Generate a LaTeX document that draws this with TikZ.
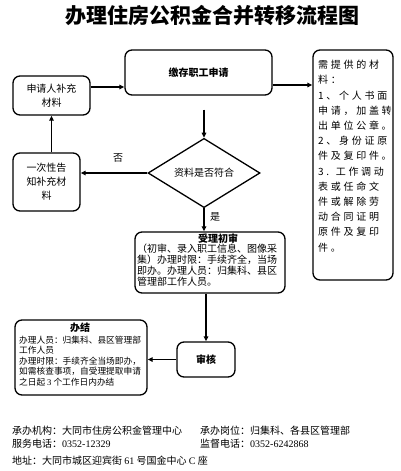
\documentclass[tikz,border=0pt]{standalone}
\usepackage{fontspec}
\setmainfont{Liberation Serif}
\newfontfamily\cjk{Noto Sans CJK SC}
\newfontfamily\cjkls{Noto Sans CJK SC}[LetterSpace=27]
\usetikzlibrary{shapes.geometric,arrows.meta}
\begin{document}
\begin{tikzpicture}[x=1pt,y=-1pt,
  box/.style={draw,line width=1.3pt,rounded corners=7pt,inner sep=1pt,align=center,
    font=\cjk\fontsize{10}{14}\selectfont},
  arr/.style={-{Triangle[length=5pt,width=4.5pt]},line width=1.3pt},
  lbl/.style={font=\cjk\fontsize{10}{12}\selectfont,inner sep=0pt},
  small/.style={font=\cjk\fontsize{10}{11}\selectfont,inner sep=0pt,align=left},
  tiny/.style={font=\cjk\fontsize{8.7}{10.4}\selectfont,inner sep=0pt,align=left},
  foot/.style={font=\cjk\fontsize{10}{12}\selectfont,inner sep=0pt,anchor=west}]
\path[use as bounding box] (0,0) rectangle (400,471);

% title
\node[font=\cjk\bfseries\fontsize{21}{24}\selectfont,inner sep=0pt] (title) at (212,16) {办理住房公积金合并转移流程图};

% nodes
\node[box,minimum width=147pt,minimum height=45pt,font=\cjk\bfseries\fontsize{10}{12}\selectfont] (apply) at (198.5,72.5) {缴存职工申请};
\node[box,minimum width=77pt,minimum height=39pt] (supp) at (51.5,95.5) {申请人补充\\材料};
\node[box,minimum width=67pt,minimum height=58pt] (notify) at (46.5,182) {一次性告\\知补充材\\料};
\node[draw,line width=1.3pt,diamond,minimum width=112pt,minimum height=58pt,inner sep=0pt,
  font=\cjk\fontsize{10}{12}\selectfont] (dia) at (204,173) {资料是否符合};
\node[box,minimum width=150pt,minimum height=61pt] (review) at (210,262.5) {};
\node[font=\cjk\bfseries\fontsize{10}{12}\selectfont,inner sep=0pt] (reviewt) at (218,238.5) {受理初审};
\node[small,anchor=north west] (reviewx) at (137,244) {（初审、录入职工信息、图像采\\集）办理时限：手续齐全，当场\\即办。办理人员：归集科、县区\\管理部工作人员。};
\node[box,minimum width=58pt,minimum height=35pt,font=\cjk\bfseries\fontsize{10}{12}\selectfont] (check) at (206,359.5) {审核};
\node[box,minimum width=132pt,minimum height=75pt] (done) at (81,357.5) {};
\node[font=\cjk\bfseries\fontsize{10}{12}\selectfont,inner sep=0pt] (donet) at (80,327.5) {办结};
\node[tiny,anchor=north west] (donex) at (19,336) {办理人员：归集科、县区管理部\\工作人员\\办理时限：手续齐全当场即办，\\如需核查事项，自受理提取申请\\之日起 {\rmfamily 3} 个工作日内办结};
\node[box,minimum width=80pt,minimum height=230pt] (mat) at (353,165) {};
\node[anchor=north west,inner sep=0pt,align=left,font=\cjkls\fontsize{10}{15.2}\selectfont] (matx) at (318,60) {需提供的材\\料：\\1、个人书面\\申请，加盖转\\出单位公章。\\2、身份证原\\件及复印件。\\3. 工作调动\\表或任命文\\件或解除劳\\动合同证明\\原件及复印\\件。};

% helper coordinates
\coordinate (y87) at (0,87);
\coordinate (y85) at (0,85);

% connectors
\draw[arr] (supp.east |- y87) -- (apply.west |- y87);
\draw[arr] (apply.east |- y85) -- (mat.west |- y85);
\draw[arr,shorten <=14pt] (apply.south -| dia.north) -- (dia.north);
\draw[arr] (dia.west) -- (dia.west -| notify.east);
\draw[arr] (notify.north -| supp.south) -- (supp.south);
\draw[arr] (dia.south) -- (dia.south |- review.north);
\draw[arr] (review.south -| check.north) -- (check.north);
\draw[arr] (check.west) -- (check.west -| done.east);

\node[lbl] (no) at (118,158) {否};
\node[lbl] (yes) at (215,217) {是};

% footer
\node[foot] (f1) at (12,431) {承办机构：大同市住房公积金管理中心};
\node[foot] (f2) at (200,431) {承办岗位：归集科、各县区管理部};
\node[foot] (f3) at (12,444) {服务电话：{\rmfamily 0352-12329}};
\node[foot] (f4) at (200,444) {监督电话：{\rmfamily 0352-6242868}};
\node[foot] (f5) at (12,461) {地址：大同市城区迎宾街 {\rmfamily 61} 号国金中心 {\rmfamily C} 座};
\end{tikzpicture}
\end{document}
